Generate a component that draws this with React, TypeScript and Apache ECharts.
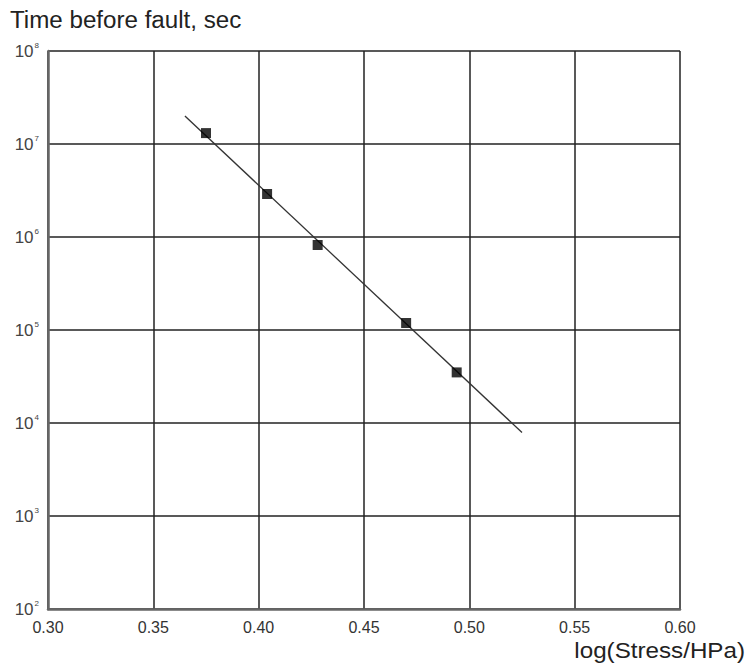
import React, { useEffect, useRef } from "react";
import * as echarts from "echarts";

const titleText = "Time before fault, sec";
const xAxisName = "log(Stress/HPa)";
const xTicks = [0.3, 0.35, 0.4, 0.45, 0.5, 0.55, 0.6];
const measuredX = [0.375, 0.404, 0.428, 0.470, 0.494];
const measuredY = [1.31e7, 2.9e6, 8.2e5, 1.19e5, 3.5e4];
const fitX = [0.365, 0.525];
const fitY = [2.0e7, 7.9e3];

const FONT = "'Liberation Sans', Arial, sans-serif";

export default function App() {
  const ref = useRef<HTMLDivElement>(null);
  useEffect(() => {
    if (!ref.current) return;
    const chart = echarts.init(ref.current, null, { renderer: "svg" });
    chart.setOption({
      animation: false,
      backgroundColor: "#ffffff",
      textStyle: { fontFamily: FONT },
      grid: { left: 48, top: 51, width: 632, height: 558, containLabel: false },
      graphic: [
        {
          type: "text",
          x: 10,
          y: 9,
          scaleX: 1.05,
          style: {
            text: titleText,
            font: `23px ${FONT}`,
            fill: "#222",
            textAlign: "left",
            textVerticalAlign: "top",
          },
        },
        {
          type: "text",
          x: 745,
          y: 650,
          scaleX: 1.1,
          style: {
            text: xAxisName,
            font: `22px ${FONT}`,
            fill: "#222",
            textAlign: "right",
            textVerticalAlign: "middle",
          },
        },
      ],
      xAxis: {
        type: "value",
        min: xTicks[0],
        max: xTicks[xTicks.length - 1],
        interval: 0.05,
        axisLine: { show: true, onZero: false, lineStyle: { color: "#666", width: 2.5 } },
        axisTick: { show: false },
        splitLine: { show: true, lineStyle: { color: "#222", width: 1.5 } },
        axisLabel: {
          formatter: (v: number) => v.toFixed(2),
          fontSize: 16,
          color: "#333",
          margin: 10,
          fontFamily: FONT,
        },
      },
      yAxis: {
        type: "log",
        logBase: 10,
        min: 1e2,
        max: 1e8,
        splitNumber: 6,
        axisLine: { show: true, lineStyle: { color: "#666", width: 2.5 } },
        axisTick: { show: false },
        splitLine: { show: true, lineStyle: { color: "#222", width: 1.5 } },
        axisLabel: {
          margin: 9,
          formatter: (v: number) => `{b|10}{s|${Math.round(Math.log10(v))}}`,
          rich: {
            b: { fontSize: 17, color: "#444", fontFamily: FONT },
            s: { fontSize: 8, color: "#444", fontFamily: FONT, verticalAlign: "top", padding: [0, 0, 12, 1] },
          },
        },
      },
      series: [
        {
          type: "line",
          data: fitX.map((x, i) => [x, fitY[i]]),
          showSymbol: false,
          symbol: "none",
          lineStyle: { color: "#333", width: 1.3 },
          z: 2,
        },
        {
          type: "scatter",
          data: measuredX.map((x, i) => [x, measuredY[i]]),
          symbol: "rect",
          symbolSize: 10,
          itemStyle: { color: "#000" },
          z: 3,
        },
      ],
    });
    return () => chart.dispose();
  }, []);
  return (
    <div
      ref={ref}
      style={{ position: "fixed", left: 0, top: 0, width: 748, height: 663, overflow: "hidden" }}
    />
  );
}
